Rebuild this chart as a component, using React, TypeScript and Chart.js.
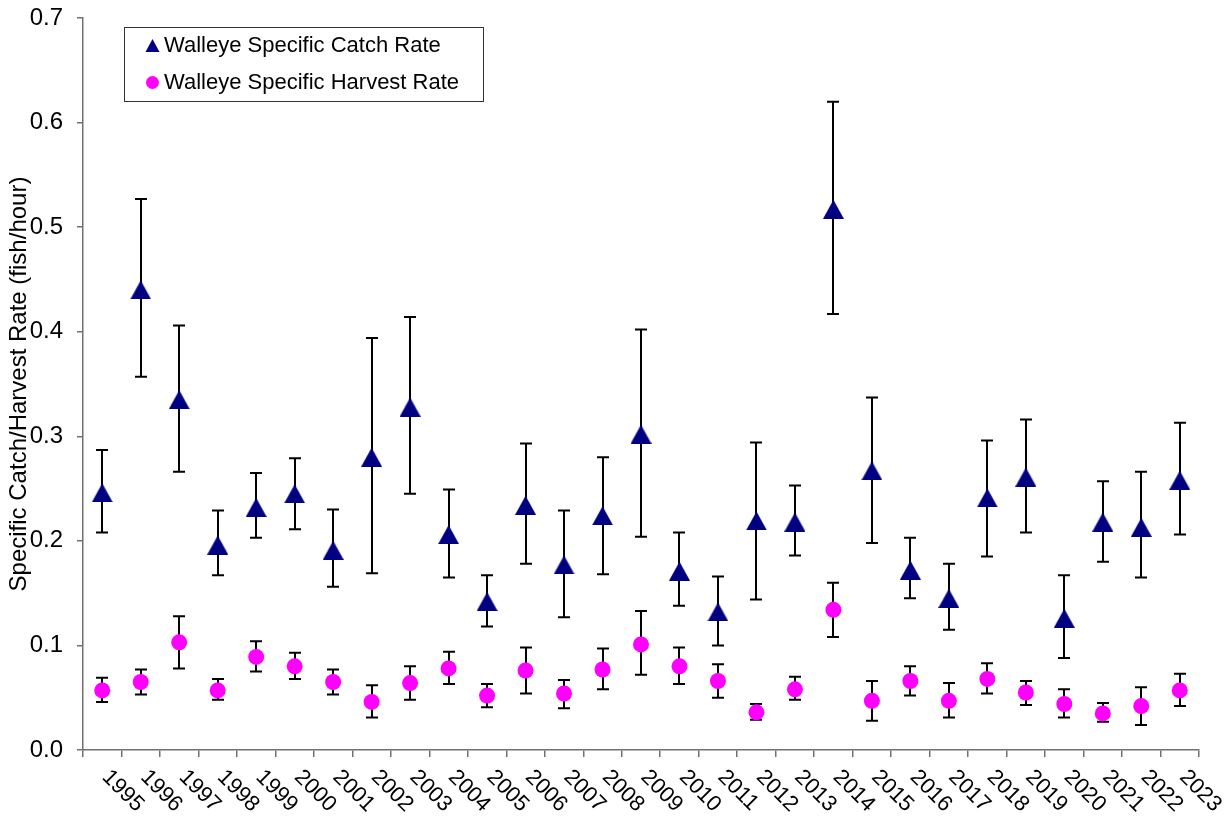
import React, { useEffect, useRef } from "react";
import { Chart, registerables } from "chart.js";

Chart.register(...registerables);

// Survey years
const years = [
  "1995", "1996", "1997", "1998", "1999", "2000", "2001", "2002", "2003", "2004",
  "2005", "2006", "2007", "2008", "2009", "2010", "2011", "2012", "2013", "2014",
  "2015", "2016", "2017", "2018", "2019", "2020", "2021", "2022", "2023",
];

// Walleye specific catch rate (fish/hour) with lower / upper error bounds
const catchRate = [
  0.246, 0.44, 0.335, 0.196, 0.232, 0.245, 0.191, 0.28, 0.328, 0.206,
  0.142, 0.234, 0.177, 0.224, 0.302, 0.171, 0.132, 0.219, 0.218, 0.517,
  0.267, 0.172, 0.145, 0.241, 0.261, 0.126, 0.218, 0.213, 0.258,
];
const catchLow = [
  0.208, 0.357, 0.266, 0.167, 0.203, 0.211, 0.156, 0.169, 0.245, 0.165,
  0.118, 0.178, 0.127, 0.168, 0.204, 0.138, 0.1, 0.144, 0.186, 0.417,
  0.198, 0.145, 0.115, 0.185, 0.208, 0.088, 0.18, 0.165, 0.206,
];
const catchHigh = [
  0.287, 0.527, 0.406, 0.229, 0.265, 0.279, 0.23, 0.394, 0.414, 0.249,
  0.167, 0.293, 0.229, 0.28, 0.402, 0.208, 0.166, 0.294, 0.253, 0.62,
  0.337, 0.203, 0.178, 0.296, 0.316, 0.167, 0.257, 0.266, 0.313,
];

// Walleye specific harvest rate (fish/hour) with lower / upper error bounds
const harvestRate = [
  0.057, 0.065, 0.103, 0.057, 0.089, 0.08, 0.065, 0.046, 0.064, 0.078,
  0.052, 0.076, 0.054, 0.077, 0.101, 0.08, 0.066, 0.036, 0.058, 0.134,
  0.047, 0.066, 0.047, 0.068, 0.055, 0.044, 0.035, 0.042, 0.057,
];
const harvestLow = [
  0.046, 0.053, 0.078, 0.048, 0.075, 0.068, 0.053, 0.031, 0.048, 0.063,
  0.041, 0.054, 0.04, 0.058, 0.072, 0.063, 0.05, 0.029, 0.048, 0.108,
  0.028, 0.052, 0.031, 0.054, 0.043, 0.031, 0.027, 0.024, 0.042,
];
const harvestHigh = [
  0.069, 0.077, 0.128, 0.068, 0.104, 0.093, 0.077, 0.062, 0.08, 0.094,
  0.063, 0.098, 0.067, 0.097, 0.133, 0.098, 0.082, 0.044, 0.07, 0.16,
  0.066, 0.08, 0.064, 0.083, 0.066, 0.058, 0.045, 0.06, 0.073,
];

const seriesNames = ["Walleye Specific Catch Rate", "Walleye Specific Harvest Rate"];
const yTitle = "Specific Catch/Harvest Rate (fish/hour)";

const NAVY = "#000080";
const MAGENTA = "#FF00FF";
const AXIS = "#707070";
const FONT = "'Liberation Sans', Arial, sans-serif";

function triangleMarker(w: number, h: number, color: string) {
  const c = document.createElement("canvas");
  c.width = w;
  c.height = h;
  const ctx = c.getContext("2d")!;
  ctx.fillStyle = color;
  ctx.beginPath();
  ctx.moveTo(w / 2, 0);
  ctx.lineTo(w, h);
  ctx.lineTo(0, h);
  ctx.closePath();
  ctx.fill();
  return c;
}

const errorBars = {
  id: "errorBars",
  beforeDatasetsDraw(chart: any) {
    const ctx = chart.ctx;
    const y = chart.scales.y;
    const bounds = [
      [catchLow, catchHigh],
      [harvestLow, harvestHigh],
    ];
    ctx.save();
    ctx.strokeStyle = "#000";
    ctx.lineWidth = 2;
    bounds.forEach(([lo, hi], di) => {
      const meta = chart.getDatasetMeta(di);
      meta.data.forEach((pt: any, i: number) => {
        const x = Math.round(pt.x);
        const y1 = y.getPixelForValue(lo[i]);
        const y2 = y.getPixelForValue(hi[i]);
        ctx.beginPath();
        ctx.moveTo(x, y1);
        ctx.lineTo(x, y2);
        ctx.moveTo(x - 6, y1);
        ctx.lineTo(x + 6, y1);
        ctx.moveTo(x - 6, y2);
        ctx.lineTo(x + 6, y2);
        ctx.stroke();
      });
    });
    ctx.restore();
  },
};

const yearLabels = {
  id: "yearLabels",
  afterDraw(chart: any) {
    const ctx = chart.ctx;
    const x = chart.scales.x;
    ctx.save();
    ctx.fillStyle = "#000";
    ctx.font = `22px ${FONT}`;
    ctx.textAlign = "left";
    ctx.textBaseline = "top";
    years.forEach((label, i) => {
      const px = x.getPixelForValue(i);
      ctx.save();
      ctx.translate(px + 11, chart.chartArea.bottom + 16);
      ctx.rotate(Math.PI / 4);
      ctx.fillText(label, 0, 0);
      ctx.restore();
    });
    ctx.restore();
  },
};

const legendBox = {
  id: "legendBox",
  afterDraw(chart: any) {
    const ctx = chart.ctx;
    ctx.save();
    ctx.strokeStyle = "#333";
    ctx.lineWidth = 1;
    ctx.strokeRect(124.5, 27.5, 359, 74);
    // catch marker
    ctx.fillStyle = NAVY;
    ctx.beginPath();
    ctx.moveTo(152.5, 39);
    ctx.lineTo(159.5, 52);
    ctx.lineTo(145.5, 52);
    ctx.closePath();
    ctx.fill();
    // harvest marker
    ctx.fillStyle = MAGENTA;
    ctx.beginPath();
    ctx.arc(152.5, 82.5, 6.5, 0, Math.PI * 2);
    ctx.fill();
    ctx.fillStyle = "#000";
    ctx.font = `22px ${FONT}`;
    ctx.textAlign = "left";
    ctx.textBaseline = "middle";
    ctx.fillText(seriesNames[0], 164, 45.5);
    ctx.fillText(seriesNames[1], 164, 82.5);
    ctx.restore();
  },
};

export default function App() {
  const ref = useRef<HTMLCanvasElement | null>(null);

  useEffect(() => {
    if (!ref.current) return;
    const tri = triangleMarker(21, 19, NAVY);
    const chart = new Chart(ref.current, {
      type: "line",
      data: {
        labels: years,
        datasets: [
          {
            label: seriesNames[0],
            data: catchRate,
            showLine: false,
            pointStyle: tri as any,
            pointRadius: 10,
            backgroundColor: NAVY,
            borderColor: NAVY,
          },
          {
            label: seriesNames[1],
            data: harvestRate,
            showLine: false,
            pointStyle: "circle",
            pointRadius: 8,
            pointBorderWidth: 0,
            backgroundColor: MAGENTA,
            borderColor: MAGENTA,
          },
        ],
      },
      options: {
        animation: false,
        responsive: false,
        layout: { padding: { top: 18, right: 32, left: 0, bottom: 0 } },
        plugins: {
          legend: { display: false },
          tooltip: { enabled: false },
        },
        scales: {
          x: {
            type: "category",
            offset: true,
            grid: {
              offset: true,
              drawOnChartArea: false,
              drawTicks: true,
              tickLength: 7,
              color: AXIS,
              lineWidth: 1.5,
            },
            border: { color: AXIS, width: 1.5 },
            ticks: { display: false },
            afterFit: (s: any) => {
              s.height = 70;
            },
          },
          y: {
            type: "linear",
            min: 0,
            max: 0.7,
            grid: {
              drawOnChartArea: false,
              drawTicks: true,
              tickLength: 6,
              color: AXIS,
              lineWidth: 1.5,
            },
            border: { color: AXIS, width: 1.5 },
            ticks: {
              stepSize: 0.1,
              padding: 14,
              color: "#000",
              font: { family: FONT, size: 24 },
              callback: (v: any) => Number(v).toFixed(1),
            },
            title: {
              display: true,
              text: yTitle,
              color: "#000",
              font: { family: FONT, size: 24 },
              padding: { top: 5, bottom: 0 },
            },
            afterFit: (s: any) => {
              s.width = 83;
              s.paddingTop = 0;
              s.paddingBottom = 0;
            },
          },
        },
      },
      plugins: [errorBars, yearLabels, legendBox],
    });
    return () => chart.destroy();
  }, []);

  return (
    <div style={{ position: "fixed", left: 0, top: 0, width: 1231, height: 820, background: "#fff" }}>
      <canvas ref={ref} width={1231} height={820} />
    </div>
  );
}
